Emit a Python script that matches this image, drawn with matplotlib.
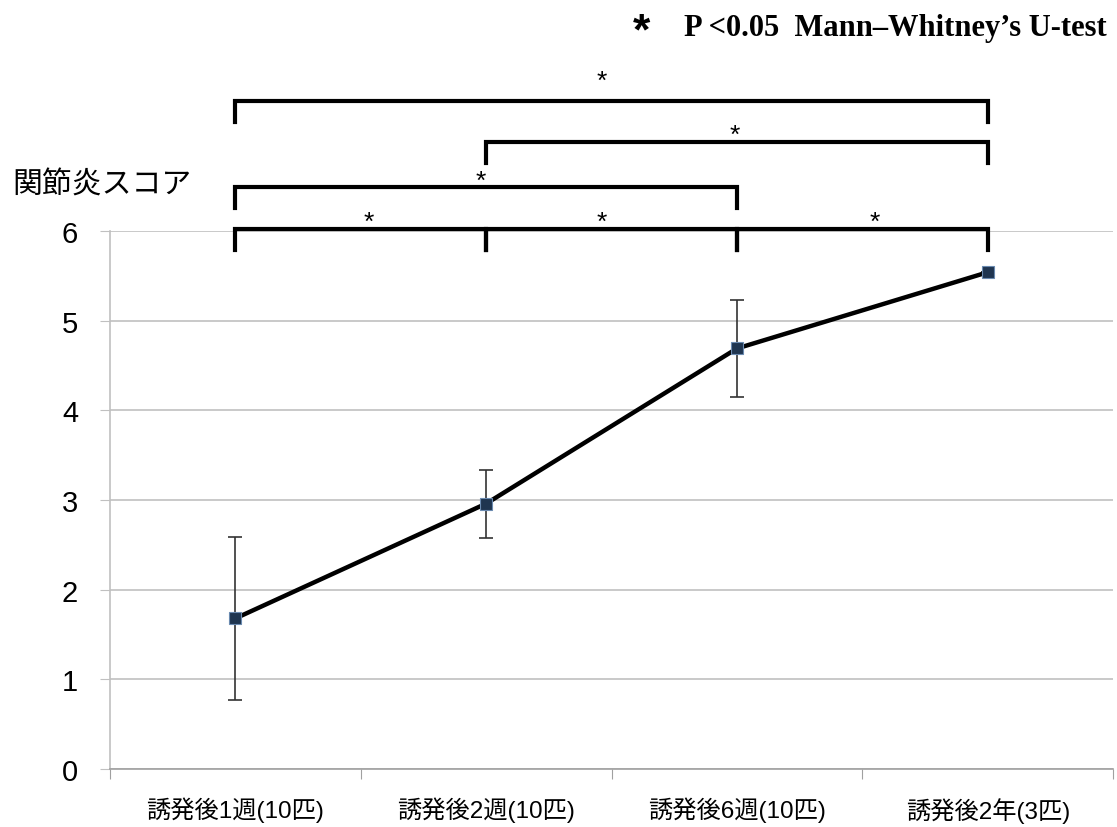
import matplotlib
matplotlib.use("Agg")
import matplotlib.pyplot as plt
import numpy as np

plt.rcParams['font.family'] = ['Liberation Sans', 'Noto Sans CJK JP']

# data
groups = ['誘発後1週(10匹)', '誘発後2週(10匹)', '誘発後6週(10匹)', '誘発後2年(3匹)']
score = [1.68, 2.96, 4.69, 5.54]
err = [0.91, 0.38, 0.54, 0.0]

# significance brackets: (left group, right group, bracket height, star x, star y)
pairs = [(0, 1, 6.02, 0.53, 6.02), (1, 2, 6.02, 1.46, 6.02), (2, 3, 6.02, 2.55, 6.02),
         (0, 2, 6.49, 0.98, 6.48), (1, 3, 6.99, 1.99, 6.99), (0, 3, 7.45, 1.46, 7.60)]

fig = plt.figure(figsize=(11.17, 8.28), dpi=100)
ax = fig.add_axes([0.0985, 0.070, 0.898, 0.6498])

x = np.arange(len(groups))
ax.errorbar(x, score, yerr=err, fmt='none', ecolor='#333333', elinewidth=1.2,
            capsize=5, capthick=1.2, zorder=3)
ax.plot(x, score, color='black', lw=3.2, zorder=4)
ax.plot(x, score, ls='none', marker='s', ms=9, mfc='#1f3550', mec='#6a8ab0', mew=0.8, zorder=5)

for a, b, h, sx, sy in pairs:
    leg = 0.23
    ax.plot([a, a, b, b], [h - leg, h, h, h - leg], color='black', lw=3,
            clip_on=False, solid_joinstyle='miter', zorder=6)
    ax.text(sx, sy, '*', ha='center', va='baseline', fontsize=19, clip_on=False)

ax.set_xlim(-0.5, 3.5)
ax.set_ylim(0, 6)
ax.set_yticks(range(7))
ax.set_yticklabels([str(v) for v in range(7)], fontsize=21)
ax.yaxis.grid(True, color='#c0c0c0', lw=1.2)
ax.set_axisbelow(True)

ax.set_xticks(np.arange(-0.5, 4, 1))
ax.set_xticklabels([])
ax.set_xticks(x, minor=True)
ax.set_xticklabels(groups, minor=True, fontsize=17.5)
ax.tick_params(axis='x', which='minor', length=0, pad=20)
ax.tick_params(axis='x', which='major', length=7, color='#a0a0a0', direction='out')
ax.tick_params(axis='y', length=7, color='#c0c0c0', pad=16)

for s in ['top', 'right']:
    ax.spines[s].set_visible(False)
ax.spines['left'].set_color('#c0c0c0')
ax.spines['bottom'].set_color('#a0a0a0')
ax.spines['left'].set_linewidth(1.2)
ax.spines['bottom'].set_linewidth(1.2)

fig.text(0.011, 0.776, '関節炎スコア', fontsize=21.5, ha='left', va='center')
fig.text(0.574, 0.946, '*', fontsize=32, fontweight='bold', ha='center', va='baseline')
fig.text(0.991, 0.966, 'P <0.05  Mann–Whitney’s U-test', fontsize=22, fontweight='bold',
         ha='right', va='center', family=['Liberation Serif'])

fig.savefig('out.png', dpi=100)
